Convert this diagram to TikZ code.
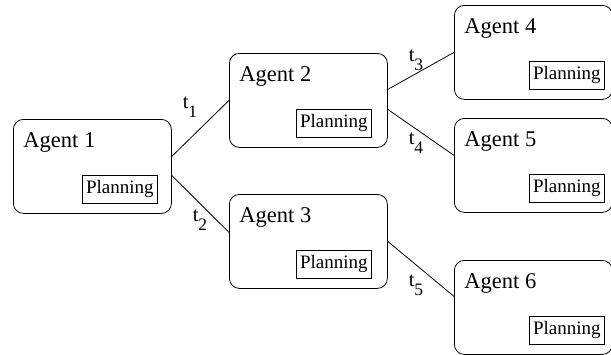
\documentclass[tikz,border=0pt]{standalone}
\usepackage{fontspec}
\setmainfont{Liberation Serif}
\newcommand{\tlab}[1]{t\raisebox{-9pt}{\fontsize{17.5}{17.5}\selectfont #1}}

\begin{document}
\begin{tikzpicture}[x=1pt,y=-1pt,line width=0.8pt]
\tikzstyle{every node}+=[inner sep=0pt]
\tikzstyle{agent}=[draw,rounded corners=10pt,minimum width=158pt,minimum height=94pt,anchor=north west]
\tikzstyle{plan}=[draw,minimum width=75pt,minimum height=28pt,anchor=south east,font=\fontsize{19}{19}\selectfont]
\tikzstyle{agentname}=[anchor=base west,font=\fontsize{22.5}{22.5}\selectfont]
\tikzstyle{lab}=[font=\fontsize{20.5}{20.5}\selectfont]
\useasboundingbox (0,0) rectangle (611,354);
% agents
\node [agent] (a1) at (13,119) {};
\node [agent] (a2) at (229,53) {};
\node [agent] (a3) at (229,194) {};
\node [agent] (a4) at (454,5) {};
\node [agent] (a5) at (454,118) {};
\node [agent] (a6) at (454,260) {};
\node [agentname] (n1) at ([shift={(10,28)}]a1.north west) {Agent 1};
\node [agentname] (n2) at ([shift={(10,28)}]a2.north west) {Agent 2};
\node [agentname] (n3) at ([shift={(10,28)}]a3.north west) {Agent 3};
\node [agentname] (n4) at ([shift={(10,28)}]a4.north west) {Agent 4};
\node [agentname] (n5) at ([shift={(10,28)}]a5.north west) {Agent 5};
\node [agentname] (n6) at ([shift={(10,28)}]a6.north west) {Agent 6};
\node [plan] (p1) at ([shift={(-14,-10)}]a1.south east) {Planning};
\node [plan] (p2) at ([shift={(-16,-10)}]a2.south east) {Planning};
\node [plan] (p3) at ([shift={(-16,-10)}]a3.south east) {Planning};
\node [plan] (p4) at ([shift={(-8,-10)}]a4.south east) {Planning};
\node [plan] (p5) at ([shift={(-8,-10)}]a5.south east) {Planning};
\node [plan] (p6) at ([shift={(-8,-10)}]a6.south east) {Planning};
% links
\draw ([yshift=10pt]a1.east) -- (a2.west);
\draw ([yshift=-9pt]a1.east) -- ([yshift=9pt]a3.west);
\draw ([yshift=11pt]a2.east) -- (a4.west);
\draw ([yshift=-9pt]a2.east) -- ([yshift=10pt]a5.west);
\draw (a3.east) -- ([yshift=11pt]a6.west);
\node [lab] (t1) at (190,107) {\tlab{1}};
\node [lab] (t2) at (200,220) {\tlab{2}};
\node [lab] (t3) at (416,60) {\tlab{3}};
\node [lab] (t4) at (416,143) {\tlab{4}};
\node [lab] (t5) at (416,285) {\tlab{5}};
\end{tikzpicture}
\end{document}
